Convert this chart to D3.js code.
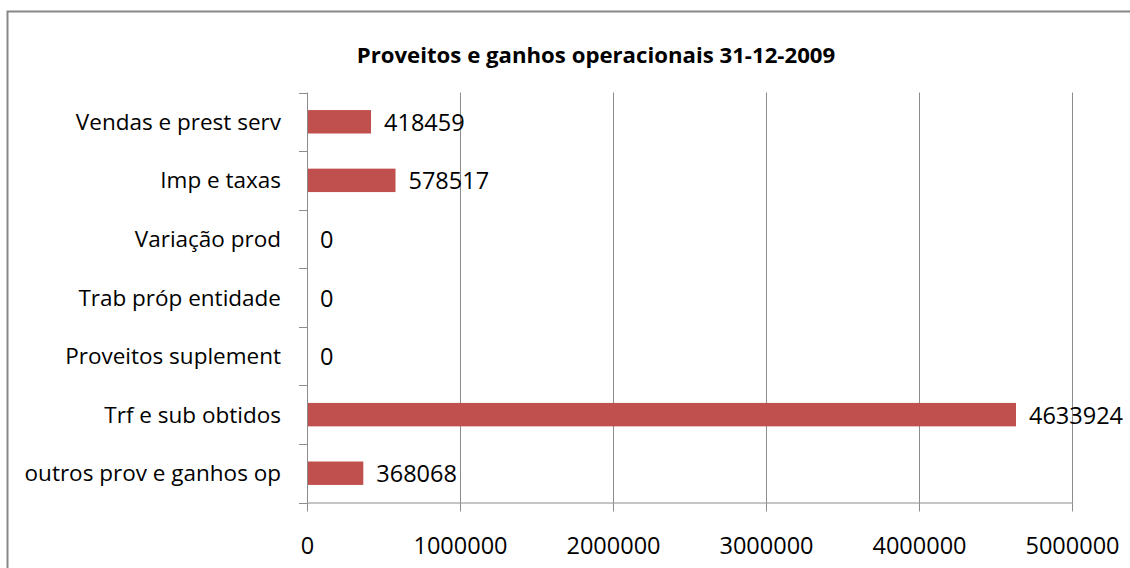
<!DOCTYPE html>
<html>
<head>
<meta charset="utf-8">
<script src="https://cdn.jsdelivr.net/npm/d3@7"></script>
<style>
  html, body { margin: 0; padding: 0; background: #fff; }
  svg { display: block; }
  text { font-family: "Open Sans", "Noto Sans", sans-serif; fill: #000; }
</style>
</head>
<body>
<svg id="chart" width="1130" height="568"></svg>
<script>
const title = "Proveitos e ganhos operacionais 31-12-2009";
const categories = [
  "Vendas e prest serv",
  "Imp e taxas",
  "Variação prod",
  "Trab próp entidade",
  "Proveitos suplement",
  "Trf e sub obtidos",
  "outros prov e ganhos op"
];
const values = [418459, 578517, 0, 0, 0, 4633924, 368068];
const xTicks = [0, 1000000, 2000000, 3000000, 4000000, 5000000];

const svg = d3.select("#chart");
const plot = { left: 307, right: 1072, top: 92.5, bottom: 502.5 };
const catSize = "22.5px", numSize = "23.5px";

// outer border
svg.append("rect")
  .attr("x", 7.5).attr("y", 11.5)
  .attr("width", 1140).attr("height", 580)
  .attr("fill", "#fff")
  .attr("stroke", "#878787").attr("stroke-width", 2);

svg.append("text")
  .attr("x", 596).attr("y", 63)
  .attr("text-anchor", "middle")
  .style("font-weight", "bold").style("font-size", "22.2px")
  .text(title);

const x = d3.scaleLinear().domain([0, 5000000]).range([plot.left, plot.right]);
const y = d3.scaleBand().domain(categories).range([plot.top, plot.bottom]).paddingInner(0.6).paddingOuter(0.3);
const band = d3.scaleBand().domain(categories).range([plot.top, plot.bottom]);

// gridlines
svg.append("g").selectAll("line").data(xTicks.slice(1)).join("line")
  .attr("x1", d => Math.round(x(d)) + 0.5).attr("x2", d => Math.round(x(d)) + 0.5)
  .attr("y1", plot.top).attr("y2", plot.bottom)
  .attr("stroke", "#8c8c8c").attr("stroke-width", 1);

// bars
svg.append("g").selectAll("rect").data(values).join("rect")
  .attr("x", x(0))
  .attr("y", (d, i) => y(categories[i]))
  .attr("width", d => x(d) - x(0))
  .attr("height", y.bandwidth())
  .attr("fill", "#C0504D");

// value labels
svg.append("g").selectAll("text").data(values).join("text")
  .attr("x", d => x(d) + 13)
  .attr("y", (d, i) => band(categories[i]) + band.bandwidth() / 2 + 9)
  .style("font-size", numSize)
  .text(d => d);

// x axis
const xAxis = d3.axisBottom(x).tickValues(xTicks).tickSize(9).tickPadding(18).tickFormat(d3.format("d"));
const gx = svg.append("g").attr("transform", `translate(0,${plot.bottom})`).call(xAxis);
gx.select(".domain").attr("stroke", "#8c8c8c").attr("d", `M${plot.left},0.5H${plot.right}`);
gx.selectAll(".tick line").attr("stroke", "#8c8c8c");
gx.selectAll(".tick text").style("font-size", numSize).style("font-family", '"Open Sans", sans-serif')
  .attr("fill", "#000").attr("y", 51).attr("dy", 0);

// y axis: ticks at category boundaries
const yAxis = d3.axisLeft(band).tickSize(0).tickPadding(26);
const gy = svg.append("g").attr("transform", `translate(${plot.left},0)`).call(yAxis);
gy.select(".domain").attr("stroke", "#8c8c8c").attr("d", `M0.5,${plot.top}V${plot.bottom}`);
gy.selectAll(".tick text").style("font-size", catSize).style("font-family", '"Open Sans", sans-serif').attr("fill", "#000").attr("dy", "0.36em");
const boundaries = categories.map(c => band(c)).concat([plot.bottom]);
gy.append("g").selectAll("line").data(boundaries).join("line")
  .attr("x1", -8).attr("x2", 0)
  .attr("y1", d => Math.round(d) + 0.5).attr("y2", d => Math.round(d) + 0.5)
  .attr("stroke", "#8c8c8c");
</script>
</body>
</html>
